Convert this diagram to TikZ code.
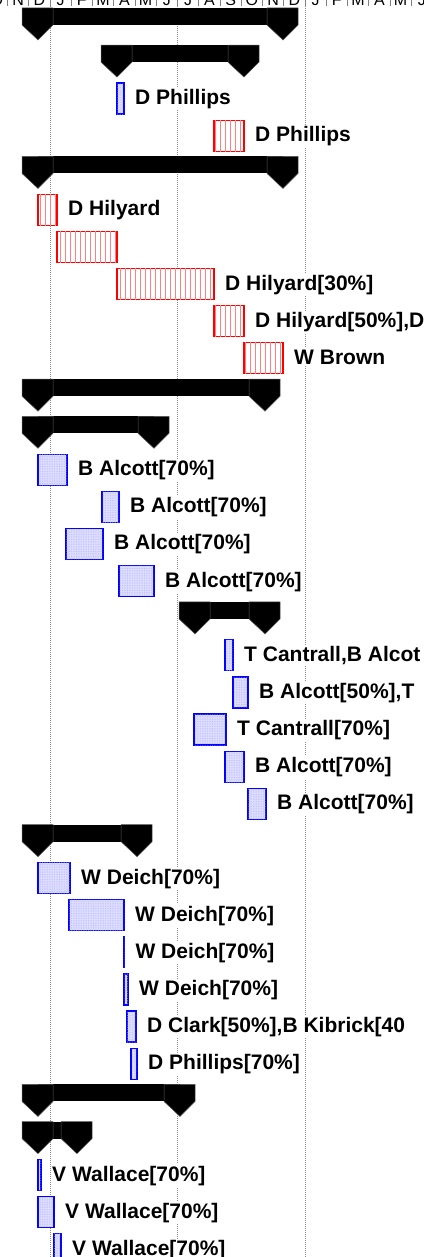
\documentclass[tikz,border=0pt]{standalone}
\usepackage{fontspec}
\usepackage{tikz}
\usetikzlibrary{patterns.meta}
\newfontfamily\arialfont{Liberation Sans}

\tikzset{
  yearline/.style={draw=black!45, line width=0.8pt, dash pattern=on 1pt off 1pt},
  monthsep/.style={draw=black!50, line width=0.7pt},
  month/.style={anchor=base, inner sep=0pt, font={\arialfont\fontsize{16}{18}\selectfont}},
  summary/.style={fill=black, draw=black!65, line width=0.5pt},
  bluetask/.style={draw=blue, line width=1.2pt, fill=blue!13,
    postaction={pattern={Dots[radius=0.35pt,distance=1.7pt]}, pattern color=blue!35}},
  redtask/.style={draw=red, line width=1.2pt, fill=white,
    postaction={pattern={Lines[angle=90,distance=5pt,line width=1pt]}, pattern color=red!50}},
  lbl/.style={anchor=base west, fill=white, inner sep=1.5pt, font={\arialfont\bfseries\fontsize{21}{24}\selectfont}}
}

\begin{document}
\begin{tikzpicture}[x=1pt, y=-1pt]
\clip (0,0) rectangle (423,1257);
\draw[yearline] (50,0) -- (50,1257);
\draw[yearline] (177.5,0) -- (177.5,1257);
\draw[yearline] (305,0) -- (305,1257);
\foreach \m [count=\k] in {O,N,D,J,F,M,A,M,J,J,A,S,O,N,D,J,F,M,A,M,J}
{
  \draw[monthsep] ({7.5+21.25*(\k-2)},-4) -- ({7.5+21.25*(\k-2)},6);
  \node[month] (m\k) at ({18.1+21.25*(\k-2)},5.5) {\m};
}
\foreach \i/\a/\b in {0/38/283, 1/117/244, 4/38/283, 10/38/265, 11/38/154, 16/195/265, 22/38/137, 29/38/180, 30/38/77}
{
  \fill (\a,{8+37.12*\i}) rectangle (\b,{25+37.12*\i});
  \filldraw[summary] ({\a-16},{8+37.12*\i}) -- ({\a+15},{8+37.12*\i}) -- ({\a+15},{25+37.12*\i}) -- (\a,{40+37.12*\i}) -- ({\a-16},{25+37.12*\i}) -- cycle;
  \filldraw[summary] ({\b-16},{8+37.12*\i}) -- ({\b+15},{8+37.12*\i}) -- ({\b+15},{25+37.12*\i}) -- (\b,{40+37.12*\i}) -- ({\b-16},{25+37.12*\i}) -- cycle;
}
\draw[redtask] (57,{8.8+37.12*6}) rectangle (117,{39.8+37.12*6});
\foreach \i/\a/\b/\t in {3/214/244/{D Phillips}, 5/38/57/{D Hilyard}, 7/117/214/{D Hilyard[30\%]},
  8/214/244/{D Hilyard[50\%],D}, 9/244/283/{W Brown}}
{
  \draw[redtask] (\a,{8.8+37.12*\i}) rectangle (\b,{39.8+37.12*\i});
  \node[lbl] (r\i) at ({\b+9.5},{30.3+37.12*\i}) {\t};
}
\foreach \i/\a/\b/\t in {2/117/124/{D Phillips}, 12/38/67/{B Alcott[70\%]}, 13/102/119/{B Alcott[70\%]},
  14/66/103/{B Alcott[70\%]}, 15/119/154/{B Alcott[70\%]}, 17/225/233/{T Cantrall,B Alcot},
  18/233/248/{B Alcott[50\%],T}, 19/194/226/{T Cantrall[70\%]}, 20/225/244/{B Alcott[70\%]},
  21/248/266/{B Alcott[70\%]}, 23/38/70/{W Deich[70\%]}, 24/69/124/{W Deich[70\%]},
  25/124/124.4/{W Deich[70\%]}, 26/124/128/{W Deich[70\%]}, 27/127/136/{D Clark[50\%],B Kibrick[40},
  28/131/137/{D Phillips[70\%]}, 31/38/41/{V Wallace[70\%]}, 32/38/54/{V Wallace[70\%]},
  33/54/61/{V Wallace[70\%]}}
{
  \draw[bluetask] (\a,{8.8+37.12*\i}) rectangle (\b,{39.8+37.12*\i});
  \node[lbl] (b\i) at ({\b+9.5},{30.3+37.12*\i}) {\t};
}
\end{tikzpicture}
\end{document}
